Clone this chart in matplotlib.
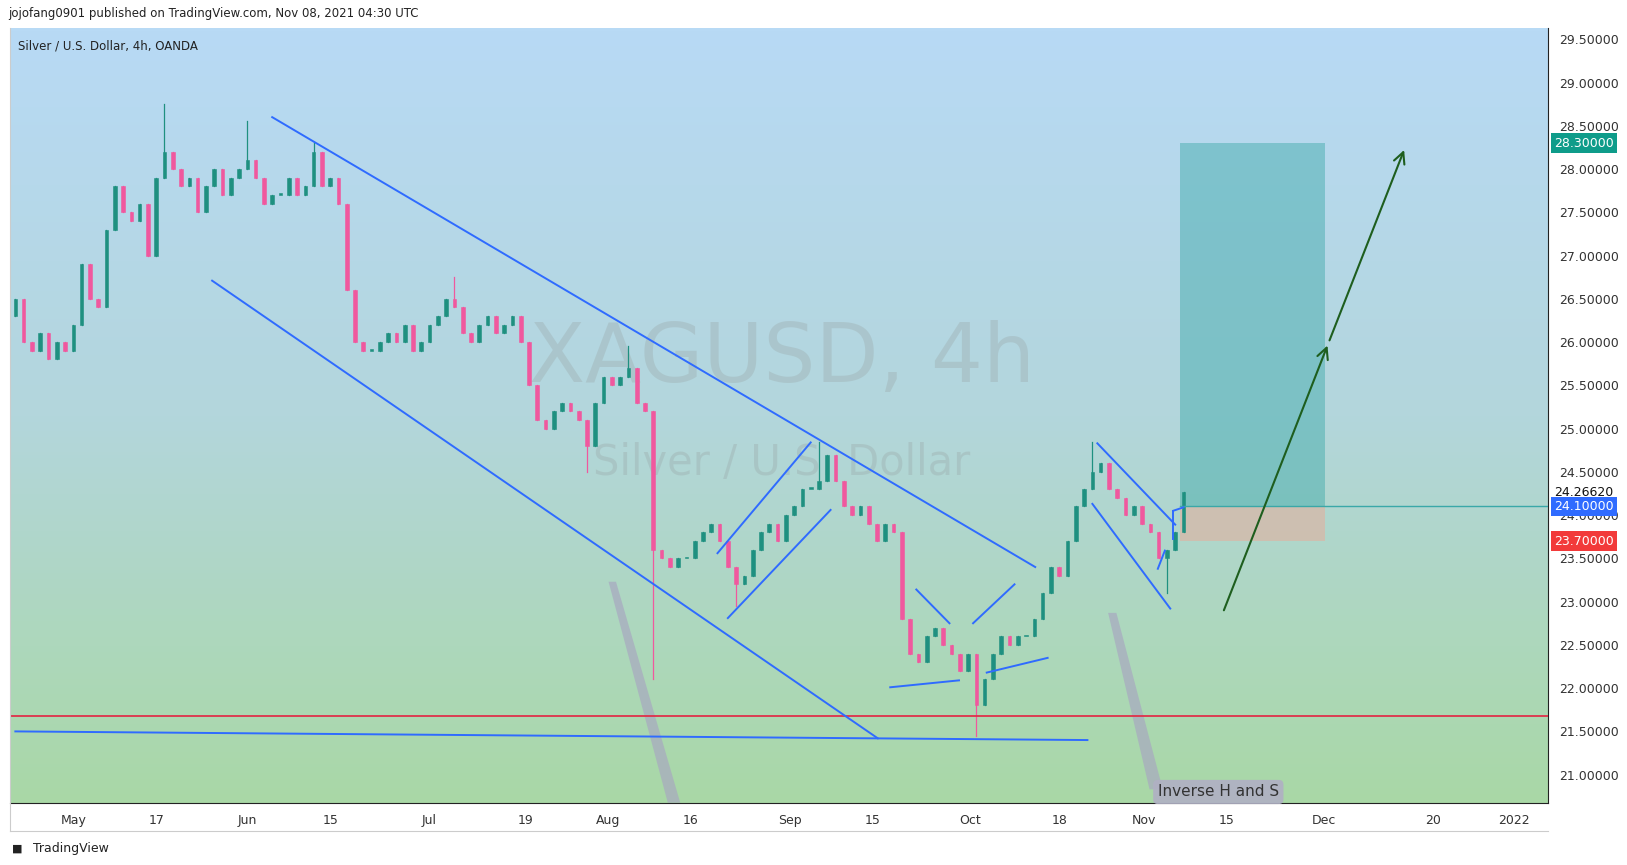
import matplotlib
matplotlib.use("Agg")
import matplotlib.pyplot as plt
import numpy as np
from matplotlib.patches import Rectangle, Polygon
from matplotlib.colors import LinearSegmentedColormap

closes = [26.5,26.0,25.9,26.1,25.8,26.0,25.9,26.2,26.9,26.5,
          26.4,27.3,27.8,27.5,27.4,27.6,27.0,27.9,28.2,28.0,
          27.8,27.9,27.5,27.8,28.0,27.7,27.9,28.0,28.1,27.9,
          27.6,27.7,27.7,27.9,27.7,27.8,28.2,27.8,27.9,27.6,
          26.6,26.0,25.9,25.9,26.0,26.1,26.0,26.2,25.9,26.0,
          26.2,26.3,26.5,26.4,26.1,26.0,26.2,26.3,26.1,26.2,
          26.3,26.0,25.5,25.1,25.0,25.2,25.3,25.2,25.1,24.8,
          25.3,25.6,25.5,25.6,25.7,25.3,25.2,23.6,23.5,23.4,
          23.5,23.5,23.7,23.8,23.9,23.7,23.4,23.2,23.3,23.6,
          23.8,23.9,23.7,24.0,24.1,24.3,24.3,24.4,24.7,24.4,
          24.1,24.0,24.1,23.9,23.7,23.9,23.8,22.8,22.4,22.3,
          22.6,22.7,22.5,22.4,22.2,22.4,21.8,22.1,22.4,22.6,
          22.5,22.6,22.6,22.8,23.1,23.4,23.3,23.7,24.1,24.3,
          24.5,24.6,24.3,24.2,24.0,24.1,23.9,23.8,23.5,23.6,
          23.8,24.27]
first_open = 26.3
spikes = {18: (None, 28.75), 28: (None, 28.55), 36: (None, 28.3), 53: (None, 26.75),
          69: (24.5, None), 74: (None, 25.95), 77: (22.1, 25.2), 87: (22.95, None),
          97: (None, 24.85), 116: (21.45, 22.4), 130: (None, 24.85), 139: (23.1, None)}

tick_pos = [7, 17.1, 28, 38, 49.9, 61.6, 71.5, 81.5, 93.5, 103.5, 115.25, 126.1,
            136.25, 146.25, 158, 171.1, 180.9]
tick_labels = ["May", "17", "Jun", "15", "Jul", "19", "Aug", "16", "Sep", "15", "Oct",
               "18", "Nov", "15", "Dec", "20", "2022"]
price_ticks = [21.0, 21.5, 22.0, 22.5, 23.0, 23.5, 24.0, 24.5, 25.0, 25.5, 26.0,
               26.5, 27.0, 27.5, 28.0, 28.5, 29.0, 29.5]

blue_lines = [((31, 28.60), (123.1, 23.40)), ((23.75, 26.71), (104.1, 21.42)),
              ((0, 21.50), (129.4, 21.40)),
              ((84.75, 23.56), (96, 24.84)), ((86, 22.81), (98.4, 24.06)),
              ((108.75, 23.14), (112.75, 22.75)), ((105.6, 22.01), (113.9, 22.09)),
              ((115.6, 22.75), (120.6, 23.20)), ((117.25, 22.18), (124.6, 22.35)),
              ((130.6, 24.83), (140, 23.89)), ((130, 24.13), (139.4, 22.92)),
              ((137.9, 23.38), (138.75, 23.59)), ((139.75, 24.05), (141, 24.09)),
              ((139.75, 23.72), (139.75, 24.05))]
red_level = 21.68
pos_x = (140.6, 158.1)
target, entry, stop = 28.30, 24.10, 23.70
last_price = 24.2662
arrow_pts = [(145.75, 22.87), (158.5, 25.99), (167.75, 28.25)]
pointers = [[(71.6, 23.23), (72.5, 23.23), (80.25, 20.676), (78.75, 20.676)],
            [(131.9, 22.87), (132.9, 22.87), (138.5, 20.83), (136.9, 20.83)]]

W, H = 1566, 833
fig = plt.figure(figsize=(16.27, 8.65), dpi=100)
fig.patch.set_facecolor("white")
ax = fig.add_axes([10 / W, 1 - 773 / H, 1480 / W, 746 / H])
ymin, ymax = 20.676, 29.63
xmin, xmax = -0.6, 185
ax.set_xlim(xmin, xmax)
ax.set_ylim(ymin, ymax)

grad = np.linspace(0, 1, 256).reshape(-1, 1)
cmap = LinearSegmentedColormap.from_list("bg", ["#a9d8a6", "#b3d6dc", "#b8daf5"])
ax.imshow(grad, extent=[xmin, xmax, ymin, ymax], origin="lower", aspect="auto",
          cmap=cmap, zorder=0)

ax.text(92.5, 25.8, "XAGUSD, 4h", fontsize=59, color="#9aa8a8", alpha=0.35,
        ha="center", va="center", zorder=1)
ax.text(92.5, 24.6, "Silver / U.S. Dollar", fontsize=30, color="#9aa8a8", alpha=0.35,
        ha="center", va="center", zorder=1)

prev = first_open
for i, c in enumerate(closes):
    o = prev
    lo, hi = min(o, c), max(o, c)
    if i in spikes:
        sl, sh = spikes[i]
        if sl is not None: lo = min(lo, sl)
        if sh is not None: hi = max(hi, sh)
    col = "#1f9080" if c >= o else "#f0589e"
    ax.plot([i, i], [lo, hi], color=col, lw=0.9, zorder=3)
    ax.add_patch(Rectangle((i - 0.22, min(o, c)), 0.44, max(abs(c - o), 0.02),
                           facecolor=col, edgecolor=col, lw=0.4, zorder=3))
    prev = c

for p in pointers:
    ax.add_patch(Polygon(p, closed=True, facecolor="#a8a8c0", alpha=0.7,
                         edgecolor="none", zorder=2))

ax.axhline(red_level, color="#e0304a", lw=1.3, zorder=4)
for (a, b) in blue_lines:
    ax.plot([a[0], b[0]], [a[1], b[1]], color="#2f6bff", lw=1.4, zorder=5)

ax.add_patch(Rectangle((pos_x[0], entry), pos_x[1] - pos_x[0], target - entry,
                       facecolor="#3aa8a8", alpha=0.45, edgecolor="none", zorder=2))
ax.add_patch(Rectangle((pos_x[0], stop), pos_x[1] - pos_x[0], entry - stop,
                       facecolor="#d8b8a8", alpha=0.75, edgecolor="none", zorder=2))
ax.plot([pos_x[0], xmax], [entry, entry], color="#3aa8a8", lw=1, zorder=4)

for a, b in zip(arrow_pts[:-1], arrow_pts[1:]):
    ax.annotate("", xy=b, xytext=a, arrowprops=dict(arrowstyle="->,head_length=0.8,head_width=0.4",
                color="#1e5e1e", lw=1.5), zorder=6)

ax.text(145.2, 20.80, "Inverse H and S", fontsize=11, color="#333333", ha="center", va="center",
        bbox=dict(boxstyle="round,pad=0.3", facecolor="#b0b0c4", edgecolor="none", alpha=0.9),
        zorder=6)

ax.set_xticks(tick_pos)
ax.set_xticklabels(tick_labels, fontsize=9, color="#333333")
ax.yaxis.tick_right()
ax.set_yticks(price_ticks)
ax.set_yticklabels([f"{v:.5f}" for v in price_ticks], fontsize=9, color="#333333")
ax.tick_params(length=0, pad=8)
for s in ["top", "left"]:
    ax.spines[s].set_visible(False)
ax.spines["right"].set_color("#222222")
ax.spines["bottom"].set_color("#222222")

tags = [(target, "#0e9c8a", "white"), (last_price, "white", "#111111"),
        (entry, "#2f6bff", "white"), (stop, "#f23a3a", "white")]
for v, bg, fg in tags:
    ax.text(1.004, (v - ymin) / (ymax - ymin), f"{v:.5f}", transform=ax.transAxes,
            fontsize=9, color=fg, ha="left", va="center", zorder=10,
            bbox=dict(boxstyle="square,pad=0.25", facecolor=bg, edgecolor="none"))

ax.text(0.005, 0.985, "Silver / U.S. Dollar, 4h, OANDA", transform=ax.transAxes,
        fontsize=8.5, color="#222222", ha="left", va="top")
fig.text(8 / W, 1 - 13 / H, "jojofang0901 published on TradingView.com, Nov 08, 2021 04:30 UTC",
         fontsize=8.5, color="#222222", ha="left", va="center")
fig.text(32 / W, 1 - 817 / H, "TradingView", fontsize=9, color="#222222", ha="left", va="center")
fig.text(12 / W, 1 - 817 / H, "\u25a0", fontsize=8, color="#222222", ha="left", va="center")
fig.add_artist(plt.Line2D([10 / W, 10 / W], [1 - 800 / H, 1 - 27 / H], color="#cccccc", lw=0.8))
fig.add_artist(plt.Line2D([10 / W, 1490 / W], [1 - 800 / H, 1 - 800 / H], color="#cccccc", lw=0.8))

fig.savefig("out.png", dpi=100)
